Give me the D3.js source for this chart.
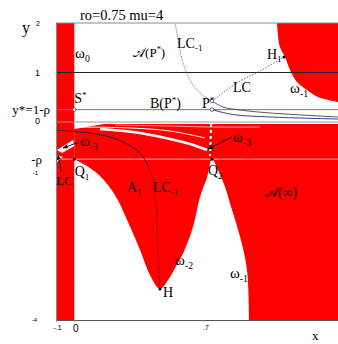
<!DOCTYPE html>
<meta charset="utf-8">
<style>
body { margin: 0; background: #fff; }
svg { display: block; font-family: "Liberation Serif", "Times New Roman", serif; }
.tick text { font-family: "Liberation Sans", Arial, sans-serif; fill: #000; }
</style>
<svg width="338" height="344"></svg>
<script src="https://d3js.org/d3.v7.min.js"></script>
<script>

// ticks
var xTickValues = [-0.1, 0, 0.7],
    xTickLabels = ["-.1", "0", ".7"];
var yTickValues = [2, 1, 0.25, 0, -0.75, -1, -4],
    yTickLabels = ["2", "1", "y*=1-\u03c1", "0", "-\u03c1", "-1", "-4"];

// reference lines (y values)
var hLineValues = [1, 0.25, 0, -0.75];

// red basin boundaries
var stripX = [-0.1, 0];
var bandTop = -0.04;
var upperRedX = [1.107, 1.123, 1.151, 1.178, 1.216, 1.271, 1.331, 1.44],
    upperRedY = [2, 1.515, 1.313, 1.051, 0.808, 0.646, 0.505, 0.404];
var vLeftX = [0, 0.069, 0.14, 0.222, 0.293, 0.359, 0.413, 0.468],
    vLeftY = [-0.75, -0.89, -1.09, -1.475, -2.02, -2.586, -3.091, -3.374];
var omegaLeftX = [0.468, 0.512, 0.55, 0.594, 0.648, 0.686, 0.725, 0.752],
    omegaLeftY = [-3.374, -3.192, -2.949, -2.65, -2.12, -1.52, -1.11, -0.75];
var omegaRightX = [0.752, 0.785, 0.823, 0.85, 0.905, 0.943, 0.954],
    omegaRightY = [-0.75, -0.97, -1.31, -1.64, -2.32, -2.99, -4];

// white streaks inside the red band
var streakAX = [0.14, 0.359, 0.523, 0.632, 0.725],
    streakAY = [-0.141, -0.222, -0.343, -0.444, -0.566];
var streakBX = [0.031, 0.304, 0.523, 0.714],
    streakBY = [-0.101, -0.121, -0.182, -0.323];
var streakCX = [0.222, 0.523, 0.741, 1.014],
    streakCY = [-0.061, -0.081, -0.101, -0.101];
var streakDX = [0.747, 0.741],
    streakDY = [-0.04, -0.687];
var wedgeX = [0, 0.195, 0],
    wedgeY = [-0.02, -0.02, -0.141];
var stripHoleX = [-0.095, -0.007, 0, -0.067],
    stripHoleY = [-0.566, -0.364, -0.485, -0.626];
var stripHole2X = [-0.1, -0.062, -0.1],
    stripHole2Y = [-0.667, -0.707, -0.828];

// critical curves
var lcm1UpX = [0.55, 0.561, 0.577, 0.594, 0.632, 0.686, 0.752],
    lcm1UpY = [1.98, 1.798, 1.455, 1.192, 0.848, 0.586, 0.424];
var lcX = [0.752, 0.889, 1.014, 1.145],
    lcY = [0.424, 0.79, 1.03, 1.313];
var pRightX = [0.752, 0.812, 0.905, 1.069, 1.44],
    pRightY = [0.424, 0.303, 0.242, 0.182, 0.101];
var pBlueX = [0.752, 0.823, 0.889, 1.069, 1.44],
    pBlueY = [0.25, 0.182, 0.141, 0.101, 0.06];
var lcm1LowX = [-0.1, -0.045, 0.08, 0.195, 0.266, 0.353, 0.402],
    lcm1LowY = [-0.162, -0.182, -0.222, -0.303, -0.404, -0.606, -0.869];
var lcm1DownX = [0.402, 0.43, 0.446, 0.457, 0.468],
    lcm1DownY = [-0.869, -1.172, -1.636, -2.586, -3.374];

// marked points
var pointX = [0, 0.752, 0.752, 0, 0.752, 0.468, 1.145],
    pointY = [0.25, 0.424, 0.25, -0.75, -0.75, -3.374, 1.313];

function pts(xs, ys) { return xs.map(function(d, i) { return [d, ys[i]]; }); }

var svg = d3.select("svg");
var x = d3.scaleLinear().domain([-0.1, 1.44]).range([56, 338]),
    y = d3.scaleLinear().domain([-4, 2]).range([320, 23]);

var line = d3.line().x(function(d) { return x(d[0]); }).y(function(d) { return y(d[1]); });
var smooth = d3.line().x(function(d) { return x(d[0]); }).y(function(d) { return y(d[1]); })
    .curve(d3.curveCatmullRom);

svg.append("defs").append("clipPath").attr("id", "plot")
  .append("rect").attr("x", 56).attr("y", 23).attr("width", 282).attr("height", 297);
svg.select("defs").append("marker")
    .attr("id", "arr").attr("viewBox", "0 0 10 10").attr("refX", 9).attr("refY", 5)
    .attr("markerWidth", 7).attr("markerHeight", 7).attr("orient", "auto")
  .append("path").attr("d", "M0,1 L10,5 L0,9 L3,5 Z").attr("fill", "#000");

var g = svg.append("g").attr("clip-path", "url(#plot)");

// red areas
g.append("rect")
    .attr("x", x(stripX[0])).attr("y", y(2))
    .attr("width", x(stripX[1]) - x(stripX[0])).attr("height", y(-4) - y(2))
    .attr("fill", "#ff0000");
g.append("rect")
    .attr("x", x(0)).attr("y", y(bandTop))
    .attr("width", x(1.44) - x(0)).attr("height", y(-4) - y(bandTop))
    .attr("fill", "#ff0000");
g.append("path")
    .attr("d", smooth(pts(upperRedX, upperRedY)) + "L" + x(1.44) + "," + y(2) + "Z")
    .attr("fill", "#ff0000");

// white basin below
var boundary = pts(vLeftX, vLeftY)
    .concat(pts(omegaLeftX, omegaLeftY).slice(1))
    .concat(pts(omegaRightX, omegaRightY).slice(1));
g.append("path")
    .attr("d", smooth(boundary) + "L" + x(0) + "," + y(-4) + "Z")
    .attr("fill", "#fff");

// fractal fingers
g.append("path").attr("d", line(pts(wedgeX, wedgeY)) + "Z").attr("fill", "#fff");
g.append("path").attr("d", line(pts(stripHoleX, stripHoleY)) + "Z").attr("fill", "#fff");
g.append("path").attr("d", line(pts(stripHole2X, stripHole2Y)) + "Z").attr("fill", "#fff");
g.append("path").attr("d", smooth(pts(streakAX, streakAY)))
    .attr("fill", "none").attr("stroke", "#fff").attr("stroke-width", 2.5);
g.append("path").attr("d", smooth(pts(streakBX, streakBY)))
    .attr("fill", "none").attr("stroke", "#fff").attr("stroke-width", 1);
g.append("path").attr("d", smooth(pts(streakCX, streakCY)))
    .attr("fill", "none").attr("stroke", "#fff").attr("stroke-width", 0.8).attr("opacity", 0.8);
g.append("path").attr("d", line(pts(streakDX, streakDY)))
    .attr("fill", "none").attr("stroke", "#fff").attr("stroke-width", 2)
    .attr("stroke-dasharray", "3,3");

// horizontal reference lines
var hStroke = ["#222", "#777", "#999", "#f6b4b4"];
g.selectAll(".hline")
  .data(hLineValues)
  .enter().append("line")
    .attr("class", "hline")
    .attr("x1", 56).attr("x2", 338)
    .attr("y1", function(d) { return y(d); }).attr("y2", function(d) { return y(d); })
    .attr("stroke", function(d, i) { return hStroke[i]; })
    .attr("stroke-width", 1);

// critical curves
g.append("path").attr("d", smooth(pts(lcm1UpX, lcm1UpY)))
    .attr("fill", "none").attr("stroke", "#8a8aa0").attr("stroke-width", 1)
    .attr("stroke-dasharray", "1.5,1");
g.append("path").attr("d", smooth(pts(lcX, lcY)))
    .attr("fill", "none").attr("stroke", "#6a6ab0").attr("stroke-width", 1)
    .attr("stroke-dasharray", "1.5,1.5");
g.append("path").attr("d", smooth(pts(pRightX, pRightY)))
    .attr("fill", "none").attr("stroke", "#555").attr("stroke-width", 1);
g.append("path").attr("d", smooth(pts(pBlueX, pBlueY)))
    .attr("fill", "none").attr("stroke", "#3a3a90").attr("stroke-width", 1);
g.append("path").attr("d", smooth(pts(lcm1LowX, lcm1LowY)))
    .attr("fill", "none").attr("stroke", "#1c1c50").attr("stroke-width", 0.9);
g.append("path").attr("d", smooth(pts(lcm1DownX, lcm1DownY)))
    .attr("fill", "none").attr("stroke", "#401010").attr("stroke-width", 0.9)
    .attr("stroke-dasharray", "1.5,1.5");

// frame
svg.append("line").attr("x1", 56).attr("x2", 338).attr("y1", 23).attr("y2", 23)
    .attr("stroke", "#888");

// axes
var yAxis = svg.append("g")
    .attr("transform", "translate(56,0)")
    .call(d3.axisLeft(y).tickValues(yTickValues)
      .tickFormat(function(d, i) { return yTickLabels[i]; }).tickSize(0).tickPadding(16));
yAxis.select(".domain").attr("stroke", "#888");
var ySize = [7, 9, 13, 9, 13, 6, 6],
    yPad = [-16, -16, -6, -16, -14, -18, -19],
    yShift = [0, 0, 0, -1, 0, 1, 0];
yAxis.selectAll(".tick text")
    .attr("font-size", function(d, i) { return ySize[i]; })
    .attr("x", function(d, i) { return yPad[i]; })
    .attr("dy", function(d, i) { return (0.32 * ySize[i] + yShift[i]) + "px"; })
    .style("font-family", function(d, i) { return (i === 2 || i === 4) ? "Liberation Serif, serif" : null; });

var xAxis = svg.append("g")
    .attr("transform", "translate(0,320)")
    .call(d3.axisBottom(x).tickValues(xTickValues)
      .tickFormat(function(d, i) { return xTickLabels[i]; }).tickSize(2).tickPadding(3));
xAxis.select(".domain").attr("stroke", "#555");
xAxis.selectAll(".tick line").attr("stroke", "#999");
var xSize = [7, 10, 7];
xAxis.selectAll(".tick text")
    .attr("font-size", function(d, i) { return xSize[i]; })
    .attr("dx", function(d, i) { return i === 2 ? 3 : 1; });

// points
svg.selectAll(".pt")
  .data(pts(pointX, pointY))
  .enter().append("circle")
    .attr("class", "pt")
    .attr("cx", function(d) { return x(d[0]); })
    .attr("cy", function(d) { return y(d[1]); })
    .attr("r", function(d, i) { return i < 3 ? 1.8 : 1.5; })
    .attr("fill", function(d, i) { return i < 3 ? "#fff" : "#000"; })
    .attr("stroke", function(d, i) { return i < 3 ? "#444" : "none"; })
    .attr("stroke-width", 0.8);

// arrows
var arrows = [
  [[0.026, -0.404], [-0.061, -0.525]],
  [[-0.072, -1.0], [-0.089, -0.667]],
  [[0.861, -0.303], [0.73, -0.545]]
];
svg.selectAll(".arrow")
  .data(arrows)
  .enter().append("path")
    .attr("d", function(d) { return line(d); })
    .attr("stroke", "#000").attr("stroke-width", 0.9)
    .attr("marker-end", "url(#arr)");

// labels: parts are [text, "sub" | "sup" | ""]
function label(parts, xd, yd, size) {
  var t = svg.append("text").attr("x", x(xd)).attr("y", y(yd))
      .attr("font-size", size).attr("fill", "#000");
  var shift = 0;
  parts.forEach(function(p) {
    var s = t.append("tspan").text(p[0]);
    var target = p[1] === "sub" ? size * 0.25 : p[1] === "sup" ? -size * 0.35 : 0;
    if (target !== shift) { s.attr("dy", target - shift); shift = target; }
    if (p[1]) s.attr("font-size", size * 0.65);
  });
}

label([["\u03c9", ""], ["0", "sub"]], 0.004, 1.293, 15);
label([["\ud835\udc9c(P", ""], ["*", "sup"], [")", ""]], 0.321, 1.313, 13);
label([["LC", ""], ["-1", "sub"]], 0.561, 1.495, 14);
label([["H", ""], ["1", "sub"]], 1.052, 1.273, 14);
label([["LC", ""]], 0.867, 0.606, 14);
label([["\u03c9", ""], ["-1", "sub"]], 1.178, 0.586, 15);
label([["S", ""], ["*", "sup"]], 0.0, 0.384, 14);
label([["B(P", ""], ["*", "sup"], [")", ""]], 0.413, 0.283, 14);
label([["P", ""], ["*", "sup"]], 0.697, 0.283, 14);
label([["\u03c9", ""], ["-3", "sub"]], 0.031, -0.485, 15);
label([["Q", ""], ["1", "sub"]], 0.002, -1.091, 14);
label([["LC", ""]], -0.098, -1.27, 13);
label([["A", ""], ["1", "sub"]], 0.288, -1.414, 14);
label([["LC", ""], ["-1", "sub"]], 0.43, -1.414, 14);
label([["\u03c9", ""], ["-3", "sub"]], 0.867, -0.404, 15);
label([["Q", ""], ["2", "sub"]], 0.73, -1.071, 14);
label([["\ud835\udc9c(\u221e)", ""]], 1.041, -1.515, 14);
label([["\u03c9", ""], ["-2", "sub"]], 0.55, -2.889, 15);
label([["\u03c9", ""], ["-1", "sub"]], 0.85, -3.152, 15);
label([["H", ""]], 0.484, -3.535, 14);

svg.append("text").attr("x", 80).attr("y", 20).attr("font-size", 14.5).text("ro=0.75 mu=4");
svg.append("text").attr("x", 22).attr("y", 33).attr("font-size", 16).text("y");
svg.append("text").attr("x", 312).attr("y", 340).attr("font-size", 13).text("x");

</script>
